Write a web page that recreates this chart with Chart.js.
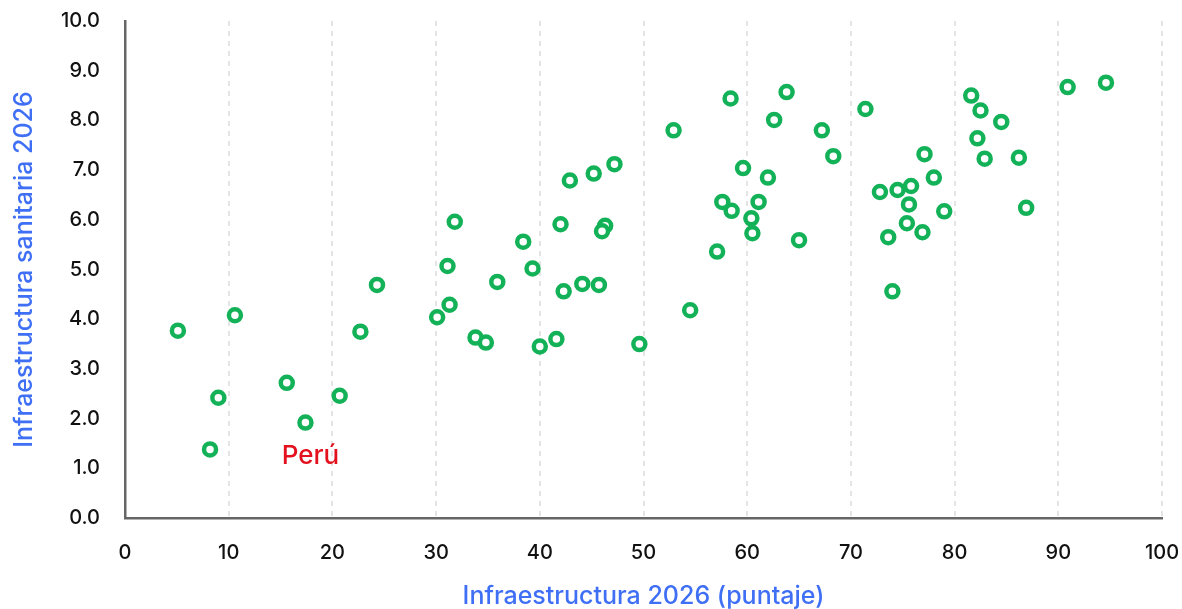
<!DOCTYPE html>
<html>
<head>
<meta charset="utf-8">
<script src="https://cdn.jsdelivr.net/npm/chart.js@4"></script>
<style>
  html, body { margin: 0; padding: 0; background: #fff; }
  #wrap { width: 1182px; height: 609px; }
</style>
</head>
<body>
<div id="wrap"><canvas id="grafica"></canvas></div>
<script>
// puntaje de infraestructura (eje X)
const infraestructura = [
  5.1, 10.6, 9.0, 8.2, 15.6, 17.4, 20.7, 22.7, 24.3,
  30.1, 31.1, 31.3, 31.8, 33.8, 34.8, 35.9, 38.4, 39.3, 40.0, 41.6,
  42.0, 42.3, 42.9, 44.1, 45.2, 45.7, 46.3, 46.0, 47.2, 49.6,
  52.9, 54.5, 57.1, 57.6, 58.4, 58.5, 59.6, 60.4, 60.5, 61.1,
  62.0, 62.6, 63.8, 65.0, 67.2, 68.3, 71.4, 72.8, 73.6, 74.0,
  74.5, 75.4, 75.6, 75.8, 76.9, 77.1, 78.0, 79.0, 81.6, 82.2,
  82.5, 82.9, 84.5, 86.2, 86.9, 90.9, 94.6
];
// infraestructura sanitaria (eje Y)
const sanitaria = [
  3.77, 4.08, 2.42, 1.38, 2.72, 1.92, 2.46, 3.75, 4.69,
  4.04, 5.07, 4.29, 5.96, 3.63, 3.53, 4.75, 5.56, 5.02, 3.45, 3.60,
  5.91, 4.56, 6.79, 4.71, 6.93, 4.69, 5.88, 5.77, 7.12, 3.50,
  7.80, 4.18, 5.36, 6.36, 8.44, 6.18, 7.04, 6.03, 5.73, 6.36,
  6.85, 8.01, 8.57, 5.59, 7.80, 7.28, 8.23, 6.56, 5.65, 4.56,
  6.60, 5.93, 6.31, 6.68, 5.75, 7.32, 6.85, 6.17, 8.50, 7.64,
  8.20, 7.23, 7.97, 7.25, 6.24, 8.67, 8.76
];
const etiquetaPeru = "Perú";
const indicePeru = 5;

const xTicks = [0, 10, 20, 30, 40, 50, 60, 70, 80, 90, 100];
const yTicks = [0, 1, 2, 3, 4, 5, 6, 7, 8, 9, 10];

const puntos = infraestructura.map((x, i) => ({ x: x, y: sanitaria[i] }));

const azul = '#3f6ff5';
const verde = '#14b258';

// etiqueta roja para Perú
const etiquetaPlugin = {
  id: 'etiquetaPeru',
  afterDatasetsDraw(chart) {
    const meta = chart.getDatasetMeta(0);
    const p = meta.data[indicePeru];
    const ctx = chart.ctx;
    ctx.save();
    ctx.font = '500 26px Inter';
    ctx.fillStyle = '#e3101e';
    ctx.textAlign = 'center';
    ctx.textBaseline = 'middle';
    ctx.fillText(etiquetaPeru, p.x + 5, p.y + 34);
    ctx.restore();
  }
};

new Chart(document.getElementById('grafica'), {
  type: 'scatter',
  data: {
    datasets: [{
      data: puntos,
      pointRadius: 6,
      pointHoverRadius: 6,
      borderWidth: 4.5,
      borderColor: verde,
      backgroundColor: '#ffffff',
    }]
  },
  options: {
    responsive: true,
    maintainAspectRatio: false,
    animation: false,
    layout: { padding: { top: 21, right: 20, left: 8, bottom: 0 } },
    plugins: {
      legend: { display: false },
      tooltip: { enabled: false },
    },
    scales: {
      x: {
        type: 'linear',
        min: 0, max: 100,
        afterBuildTicks: s => { s.ticks = xTicks.map(v => ({ value: v })); },
        afterFit: s => { s.height = 91; s.paddingLeft = 0; s.paddingRight = 0; },
        grid: {
          display: true,
          color: '#e4e4e4',
          lineWidth: 2,
          drawTicks: false,
        },
        border: { display: true, color: '#666666', width: 2.5, dash: [5, 5] },
        ticks: {
          padding: 23,
          color: '#111111',
          font: { family: 'Inter', size: 20, weight: '500' },
        },
        title: {
          display: true,
          text: 'Infraestructura 2026 (puntaje)',
          color: azul,
          font: { family: 'Inter', size: 25, weight: '500', lineHeight: 1 },
          padding: { top: 14, bottom: 0 },
        },
      },
      y: {
        type: 'linear',
        min: 0, max: 10,
        afterBuildTicks: s => { s.ticks = yTicks.map(v => ({ value: v })); },
        afterFit: s => { s.width = 117; s.paddingTop = 0; s.paddingBottom = 0; },
        grid: { display: false, drawTicks: false },
        border: { display: true, color: '#666666', width: 2.5 },
        ticks: {
          padding: 25,
          color: '#111111',
          font: { family: 'Inter', size: 20, weight: '500' },
          callback: v => v.toFixed(1),
        },
        title: {
          display: true,
          text: 'Infraestructura sanitaria 2026',
          color: azul,
          font: { family: 'Inter', size: 25, weight: '500', lineHeight: 1 },
          padding: { top: 4, bottom: 10 },
        },
      }
    }
  },
  plugins: [etiquetaPlugin]
});
</script>
</body>
</html>
